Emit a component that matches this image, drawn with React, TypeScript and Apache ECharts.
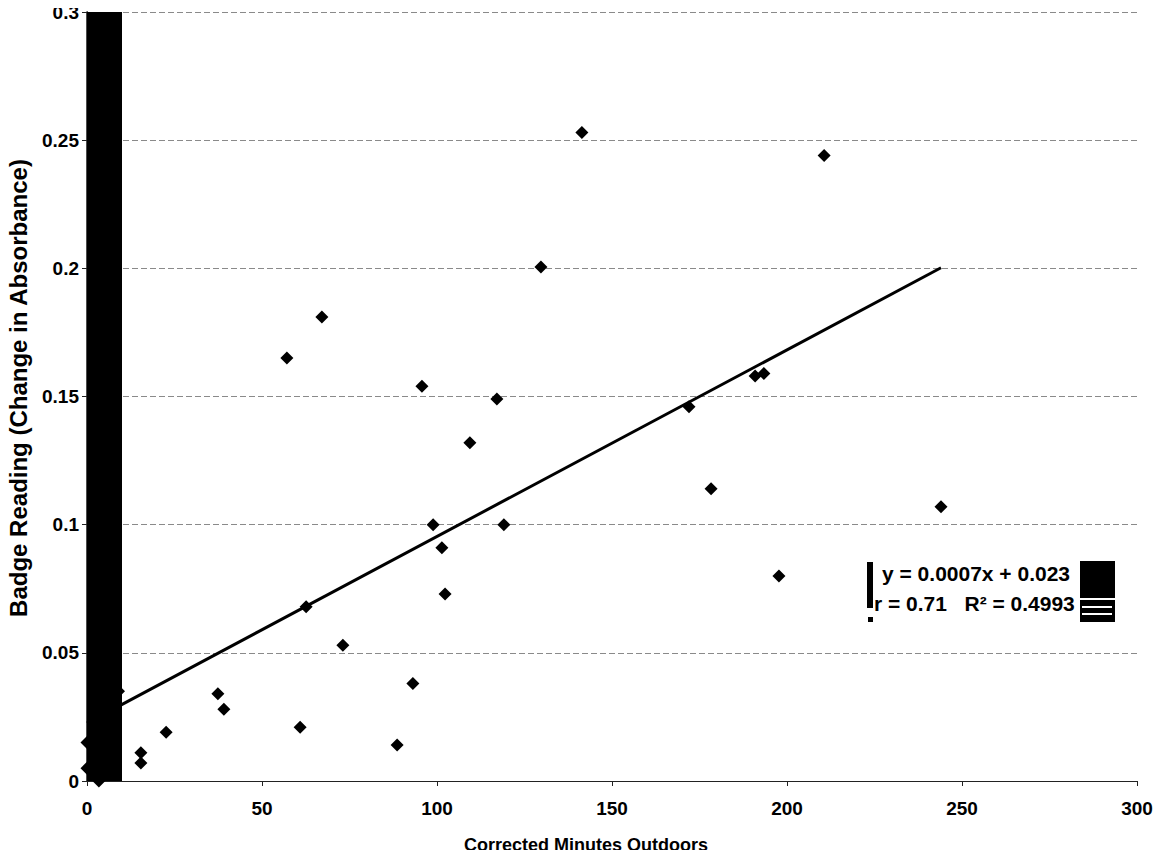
import React, { useEffect, useRef } from "react";
import * as echarts from "echarts";

// Scatter data: corrected minutes outdoors vs badge reading
const minutesX = [
  0, 0, 3.4, 9, 15.4, 15.4, 22.6, 37.4, 39.1, 57.1, 60.9, 62.6, 67.1, 73.1,
  88.6, 93.1, 95.7, 98.9, 101.4, 102.3, 109.4, 117.1, 119.1, 129.7, 141.4,
  172, 178.3, 190.9, 193.4, 197.7, 210.6, 244,
];
const badgeY = [
  0.015, 0.005, 0.0, 0.035, 0.011, 0.007, 0.019, 0.034, 0.028, 0.165, 0.021,
  0.068, 0.181, 0.053, 0.014, 0.038, 0.154, 0.1, 0.091, 0.073, 0.132, 0.149,
  0.1, 0.2005, 0.253, 0.146, 0.114, 0.158, 0.159, 0.08, 0.244, 0.107,
];

// Linear trend line y = slope * x + intercept over the data range
const trendSlope = 0.000728;
const trendIntercept = 0.0226;
const trendRangeX = [0, 244];

const xTicks = [0, 50, 100, 150, 200, 250, 300];
const yTicks = [0, 0.05, 0.1, 0.15, 0.2, 0.25, 0.3];

const eqLine1 = "y = 0.0007x + 0.023";
const eqLine2 = "r = 0.71   R\u00B2 = 0.4993";
const xTitle = "Corrected Minutes Outdoors";
const yTitle = "Badge Reading (Change in Absorbance)";

const FONT = "'Liberation Sans', Arial, sans-serif";

export default function App() {
  const ref = useRef<HTMLDivElement>(null);
  useEffect(() => {
    if (!ref.current) return;
    const chart = echarts.init(ref.current, undefined, { renderer: "svg" });
    const points = minutesX.map((x, i) => [x, badgeY[i]]);
    const trend = trendRangeX.map((x) => [x, trendSlope * x + trendIntercept]);
    chart.setOption({
      animation: false,
      backgroundColor: "#fff",
      grid: { left: 87, right: 31, top: 12, bottom: 77, containLabel: false },
      xAxis: {
        type: "value",
        min: xTicks[0],
        max: xTicks[xTicks.length - 1],
        interval: 50,
        axisLine: { show: true, onZero: false, lineStyle: { color: "#222", width: 1 } },
        axisTick: { show: true, inside: false, length: 5, lineStyle: { color: "#222" } },
        axisLabel: {
          color: "#000",
          fontFamily: FONT,
          fontWeight: "bold",
          fontSize: 19,
          margin: 18,
        },
        splitLine: { show: false },
      },
      yAxis: [
        {
          type: "value",
          min: yTicks[0],
          max: yTicks[yTicks.length - 1],
          interval: 0.05,
          axisLine: { show: true, onZero: false, lineStyle: { color: "#222" } },
          axisTick: { show: true, inside: false, length: 5, lineStyle: { color: "#222" } },
          axisLabel: {
            color: "#000",
            fontFamily: FONT,
            fontWeight: "bold",
            fontSize: 19,
            margin: 8,
          },
          splitLine: {
            show: true,
            lineStyle: { color: "#8a8a8a", type: [6, 3], width: 1 },
          },
        },
        {
          type: "value",
          position: "right",
          min: yTicks[0],
          max: yTicks[yTicks.length - 1],
          interval: 0.05,
          axisLine: { show: true, lineStyle: { color: "#111", width: 1.5 } },
          axisTick: { show: false },
          axisLabel: { show: false },
          splitLine: { show: false },
        },
      ],
      series: [
        {
          type: "line",
          data: trend,
          symbol: "none",
          lineStyle: { color: "#000", width: 3 },
          z: 2,
        },
        {
          type: "scatter",
          data: points,
          symbol: "diamond",
          symbolSize: 13,
          itemStyle: { color: "#000", opacity: 1 },
          z: 3,
          markArea: {
            silent: true,
            itemStyle: { color: "#000", opacity: 1 },
            data: [[{ xAxis: 0, yAxis: 0 }, { xAxis: 10, yAxis: 0.3 }]],
          },
        },
      ],
      graphic: [
        {
          type: "text",
          left: 882,
          top: 563,
          style: {
            text: eqLine1,
            fill: "#000",
            font: `bold 21px ${FONT}`,
          },
        },
        {
          type: "text",
          left: 874,
          top: 593,
          style: {
            text: eqLine2,
            fill: "#000",
            font: `bold 21px ${FONT}`,
          },
        },
        { type: "rect", shape: { x: 867, y: 562, width: 6, height: 46 }, style: { fill: "#000" } },
        { type: "rect", shape: { x: 868, y: 617, width: 5, height: 5 }, style: { fill: "#000" } },
        { type: "rect", shape: { x: 1080, y: 561, width: 35, height: 37 }, style: { fill: "#000" } },
        { type: "rect", shape: { x: 1080, y: 600, width: 35, height: 22 }, style: { fill: "#000" } },
        { type: "rect", shape: { x: 1082, y: 606, width: 30, height: 2 }, style: { fill: "#fff" } },
        { type: "rect", shape: { x: 1082, y: 613, width: 30, height: 2 }, style: { fill: "#fff" } },
        {
          type: "text",
          x: 586,
          y: 845,
          style: {
            text: xTitle,
            fill: "#000",
            font: `bold 18px ${FONT}`,
            align: "center",
            verticalAlign: "middle",
          },
        },
        {
          type: "text",
          x: 18,
          y: 388,
          rotation: Math.PI / 2,
          style: {
            text: yTitle,
            fill: "#000",
            font: `bold 24px ${FONT}`,
            align: "center",
            verticalAlign: "middle",
          },
        },
      ],
    });
    return () => chart.dispose();
  }, []);
  return <div ref={ref} style={{ width: 1168, height: 858, margin: -8 }} />;
}
